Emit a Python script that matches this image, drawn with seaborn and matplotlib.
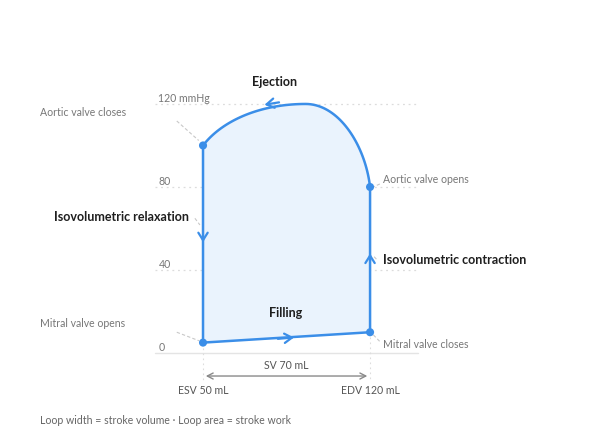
import numpy as np
import pandas as pd
import matplotlib
matplotlib.use("Agg")
import matplotlib.pyplot as plt
import seaborn as sns

# ---- data ----
esv = 50          # end-systolic volume (mL)
edv = 120         # end-diastolic volume (mL)
p_mvo = 5         # mitral valve opens (mmHg)
p_mvc = 10        # mitral valve closes
p_avo = 80        # aortic valve opens
p_avc = 100       # aortic valve closes
# ejection curve as cubic bezier control points (volume, pressure)
ej1_v = [120, 118, 107, 93]
ej1_p = [80, 100, 120, 120]
ej2_v = [93, 74, 58, 50]
ej2_p = [120, 120, 112, 100]
ytick_vals = [0, 40, 80, 120]
ytick_labels = ["0", "40", "80", "120 mmHg"]
phase_labels = ["Ejection", "Isovolumetric relaxation", "Filling", "Isovolumetric contraction"]
event_labels = ["Aortic valve closes", "Mitral valve opens", "Mitral valve closes", "Aortic valve opens"]
sv_label = "SV 70 mL"
esv_label = "ESV 50 mL"
edv_label = "EDV 120 mL"
footer = "Loop width = stroke volume · Loop area = stroke work"

LINE = "#3b8ee8"
FILL = "#eaf3fd"
GRAY = "#777777"
DARK = "#1f1f1f"
GRID = "#dcdcdc"
BOLD_FS = 9.0
SMALL_FS = 7.6

sns.set_theme(style="white")
plt.rcParams["font.family"] = ["Lato", "DejaVu Sans"]

def bez(v, p, n=40):
    t = np.linspace(0, 1, n)
    b = [(1 - t) ** 3, 3 * (1 - t) ** 2 * t, 3 * (1 - t) * t ** 2, t ** 3]
    return sum(bi * vi for bi, vi in zip(b, v)), sum(bi * pi for bi, pi in zip(b, p))

v1, q1 = bez(ej1_v, ej1_p)
v2, q2 = bez(ej2_v, ej2_p)
loop_v = np.concatenate([[esv, edv, edv], v1, v2[1:], [esv]])
loop_p = np.concatenate([[p_mvo, p_mvc, p_avo], q1, q2[1:], [p_mvo]])
loop = pd.DataFrame({"volume": loop_v, "pressure": loop_p})

fig = plt.figure(figsize=(6.02, 4.44), dpi=100)
ax = fig.add_axes([0, 0, 1, 1])

# grid lines
for v in ytick_vals:
    if v == 0:
        ax.plot([30, 140], [0, 0], color="#e4e4e4", lw=1.0, zorder=1)
    else:
        ax.plot([30, 140], [v, v], color=GRID, lw=0.9, ls=(0, (1.5, 3)), zorder=1)
for v, lab in zip(ytick_vals, ytick_labels):
    ax.text(31.3, v + 2.8, lab, color=GRAY, fontsize=SMALL_FS, ha="left", va="center")

# loop
ax.fill(loop_v, loop_p, color=FILL, zorder=2, lw=0)
sns.lineplot(data=loop, x="volume", y="pressure", sort=False, estimator=None,
             color=LINE, lw=1.8, ax=ax, zorder=3)

pts_v = [esv, edv, edv, esv]
pts_p = [p_mvo, p_mvc, p_avo, p_avc]
sns.scatterplot(x=pts_v, y=pts_p, color=LINE, s=34, edgecolor="none", ax=ax, zorder=5)

# direction arrows
aprops = dict(arrowstyle="->,head_length=0.45,head_width=0.28", color=LINE, lw=1.6)
ax.annotate("", xy=(74.6, 119.4), xytext=(83.0, 121.0), arrowprops=aprops, zorder=4)
ax.annotate("", xy=(esv, 52.0), xytext=(esv, 58.0), arrowprops=aprops, zorder=4)
ax.annotate("", xy=(edv, 49.3), xytext=(edv, 43.0), arrowprops=aprops, zorder=4)
ax.annotate("", xy=(89.3, 7.6), xytext=(80.2, 6.7), arrowprops=aprops, zorder=4)

# phase labels
ax.text(79.8, 130.6, phase_labels[0], color=DARK, fontsize=BOLD_FS, fontweight="bold", ha="center", va="center")
ax.text(44.3, 65.3, phase_labels[1], color=DARK, fontsize=BOLD_FS, fontweight="bold", ha="right", va="center")
ax.text(84.8, 19.3, phase_labels[2], color=DARK, fontsize=BOLD_FS, fontweight="bold", ha="center", va="center")
ax.text(125.4, 45.0, phase_labels[3], color=DARK, fontsize=BOLD_FS, fontweight="bold", ha="left", va="center")

# event labels
ax.text(-18.3, 115.7, event_labels[0], color=GRAY, fontsize=SMALL_FS, ha="left", va="center")
ax.text(-18.3, 14.0, event_labels[1], color=GRAY, fontsize=SMALL_FS, ha="left", va="center")
ax.text(125.4, 4.3, event_labels[2], color=GRAY, fontsize=SMALL_FS, ha="left", va="center")
ax.text(125.4, 83.4, event_labels[3], color=GRAY, fontsize=SMALL_FS, ha="left", va="center")

# leader lines
lead = dict(color="#c8c8c8", lw=0.8, ls=(0, (3, 2)), zorder=1)
ax.plot([39.0, 48.2], [111.8, 102.4], **lead)
ax.plot([46.6, 48.7], [64.9, 61.7], **lead)
ax.plot([39.0, 48.3], [10.0, 5.9], **lead)
ax.plot([121.4, 124.2], [8.7, 5.4], **lead)
ax.plot([120.7, 124.2], [79.7, 81.5], **lead)
ax.plot([121.7, 123.0], [46.4, 44.8], **lead)

# volume guides
ax.plot([esv, esv], [p_mvo, -13], color="#dddddd", lw=0.8, ls=(0, (1.5, 3)), zorder=1)
ax.plot([edv, edv], [p_mvc, -13], color="#dddddd", lw=0.8, ls=(0, (1.5, 3)), zorder=1)
ax.annotate("", xy=(esv, -11.1), xytext=(edv, -11.1),
            arrowprops=dict(arrowstyle="<->,head_length=0.35,head_width=0.18", color="#8a8a8a", lw=1.0))
ax.text((esv + edv) / 2, -5.8, sv_label, color="#555555", fontsize=SMALL_FS, ha="center", va="center")
ax.text(esv, -18.3, esv_label, color="#555555", fontsize=SMALL_FS, ha="center", va="center")
ax.text(edv, -18.3, edv_label, color="#555555", fontsize=SMALL_FS, ha="center", va="center")

ax.text(-18.3, -32.3, footer, color="#666666", fontsize=SMALL_FS, ha="left", va="center")

ax.set_xlim(-35.08, 217.2)
ax.set_ylim(-43.86, 170.1)
ax.axis("off")

fig.savefig("out.png", dpi=100)
